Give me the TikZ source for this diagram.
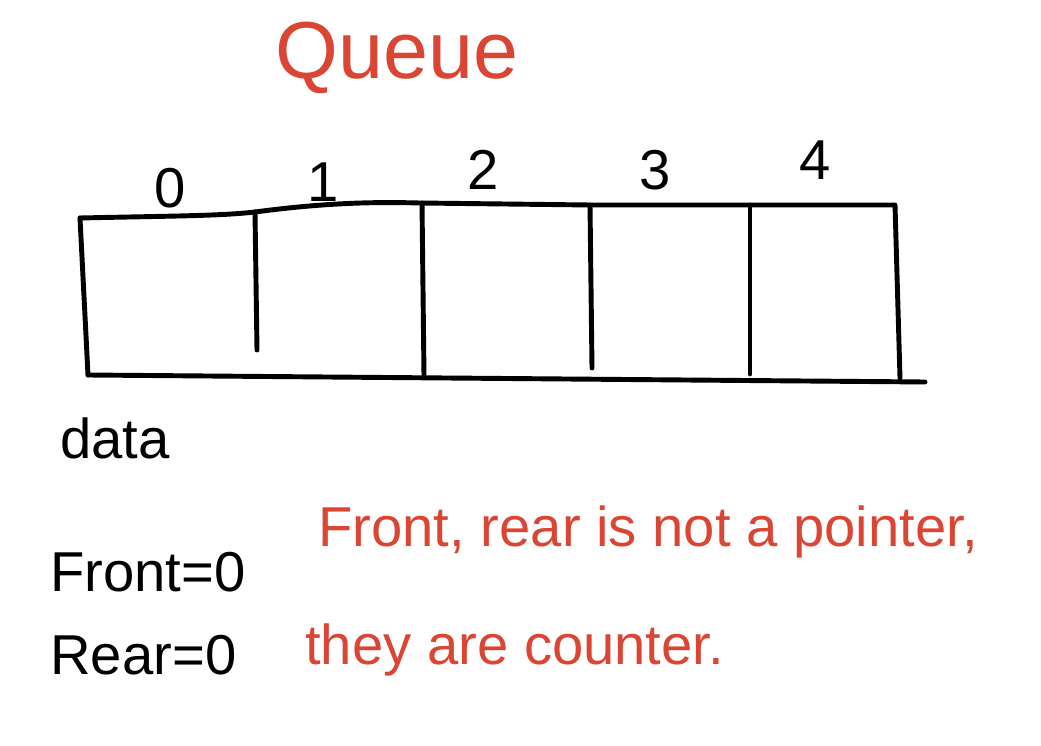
\documentclass[tikz,border=0pt]{standalone}
\usepackage{fontspec}
\setmainfont{Liberation Sans}
\usetikzlibrary{positioning}
\definecolor{inkred}{rgb}{0.86,0.27,0.20}
\tikzset{
  pen/.style={
    line width=2.8pt,
    line cap=round,
    line join=round,
    black
  },
  idx/.style={
    font=\fontsize{32}{36}\selectfont,
    inner sep=0pt
  },
  nota/.style={
    font=\fontsize{32}{36}\selectfont,
    inner sep=0pt,
    anchor=west
  },
  rojo/.style={
    font=\fontsize{32}{36}\selectfont,
    text=inkred,
    inner sep=0pt,
    anchor=west
  }
}

\begin{document}
\begin{tikzpicture}[x=0.02cm,y=-0.02cm]
\useasboundingbox (0,0) rectangle (1041,746);
% title
\node[font=\fontsize{46}{50}\selectfont, text=inkred, inner sep=0pt] (title) at (397,58) {Queue};
% array outline
\draw[pen] (80,218) .. controls (170,216) and (220,216) .. (255,212)
  .. controls (330,202) and (380,202) .. (420,203)
  -- (590,205) -- (750,205) -- (895,205) -- (900,378);
\draw[pen] (80,218) -- (88,375);
\draw[pen] (88,375) -- (925,382);
% dividers
\draw[pen] (255,212) -- (257,350);
\draw[pen] (422,203) -- (424,376);
\draw[pen] (590,205) -- (592,368);
\draw[pen] (750,205) -- (750,374);
% indices
\node[idx] (i0) at (170,188) {0};
\node[idx] (i1) at (323,182) {1};
\node[idx] (i2) at (483,170) {2};
\node[idx] (i3) at (655,170) {3};
\node[idx] (i4) at (815,160) {4};
% labels
\node[nota] (data) at (60,438) {data};
\node[nota] (front) at (50,572) {Front=0};
\node[nota] (rear) at (50,655) {Rear=0};
% red note
\node[rojo] (n1) at (318,532) {Front, rear is not a pointer,};
\node[rojo] (n2) at (305,650) {they are counter.};
\end{tikzpicture}
\end{document}
